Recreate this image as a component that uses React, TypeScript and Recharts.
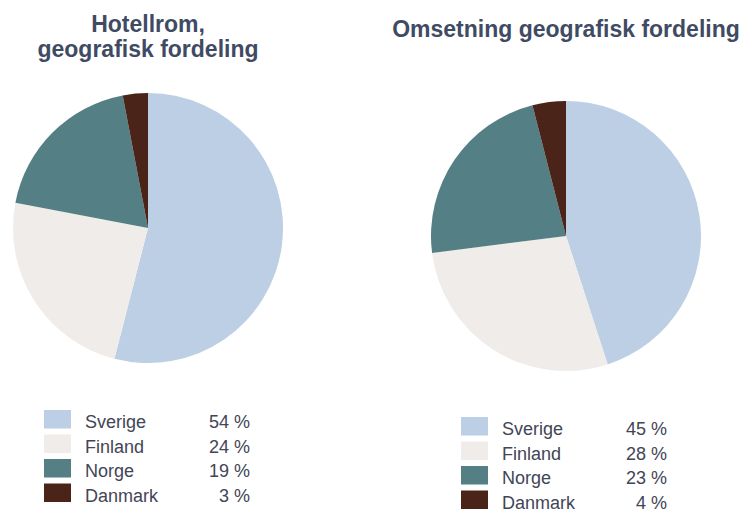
import React from "react";
import { PieChart, Pie, Cell } from "recharts";

const countries = ["Sverige", "Finland", "Norge", "Danmark"];
const colors = ["#bccfe4", "#f0ece9", "#547f84", "#4a2418"];
const hotelValues = [54, 24, 19, 3];
const revenueValues = [45, 28, 23, 4];
const hotelTitle = ["Hotellrom,", "geografisk fordeling"];
const revenueTitle = ["Omsetning geografisk fordeling"];

const hotelData = countries.map((name, i) => ({ name, value: hotelValues[i] }));
const revenueData = countries.map((name, i) => ({ name, value: revenueValues[i] }));

const titleColor = "#3f4b63";
const textColor = "#424556";
const font = "'Liberation Sans', Arial, sans-serif";

function LegendBlock({ x, y, pctRight, values }: { x: number; y: number; pctRight: number; values: number[] }) {
  return (
    <g>
      {countries.map((c, i) => {
        const top = y + i * 24.5;
        return (
          <g key={c}>
            <rect x={x} y={top} width={27} height={18.5} fill={colors[i]} />
            <text x={x + 41} y={top + 18} fontSize={18} fill={textColor} fontFamily={font}>
              {c}
            </text>
            <text x={pctRight} y={top + 18} fontSize={18} fill={textColor} fontFamily={font} textAnchor="end">
              {values[i] + " %"}
            </text>
          </g>
        );
      })}
    </g>
  );
}

export default function App() {
  return (
    <div style={{ position: "absolute", left: 0, top: 0, width: 742, height: 512, background: "#fff" }}>
      <div style={{ position: "absolute", left: 0, top: 0 }}>
        <PieChart width={742} height={512} margin={{ top: 0, right: 0, bottom: 0, left: 0 }}>
          <Pie
            data={hotelData}
            dataKey="value"
            cx={148}
            cy={228}
            outerRadius={135}
            startAngle={90}
            endAngle={-270}
            stroke="none"
            isAnimationActive={false}
          >
            {hotelData.map((d, i) => (
              <Cell key={d.name} fill={colors[i]} />
            ))}
          </Pie>
          <Pie
            data={revenueData}
            dataKey="value"
            cx={566}
            cy={236}
            outerRadius={135}
            startAngle={90}
            endAngle={-270}
            stroke="none"
            isAnimationActive={false}
          >
            {revenueData.map((d, i) => (
              <Cell key={d.name} fill={colors[i]} />
            ))}
          </Pie>
        </PieChart>
      </div>
      <svg width={742} height={512} style={{ position: "absolute", left: 0, top: 0, pointerEvents: "none" }}>
        {hotelTitle.map((t, i) => (
          <text key={t} x={148} y={32 + i * 25} textAnchor="middle" fontSize={23} fontWeight="bold" fill={titleColor} fontFamily={font}>
            {t}
          </text>
        ))}
        {revenueTitle.map((t) => (
          <text key={t} x={566} y={37} textAnchor="middle" fontSize={23} fontWeight="bold" fill={titleColor} fontFamily={font}>
            {t}
          </text>
        ))}
        <LegendBlock x={44} y={410} pctRight={250} values={hotelValues} />
        <LegendBlock x={461} y={417} pctRight={667} values={revenueValues} />
      </svg>
    </div>
  );
}
